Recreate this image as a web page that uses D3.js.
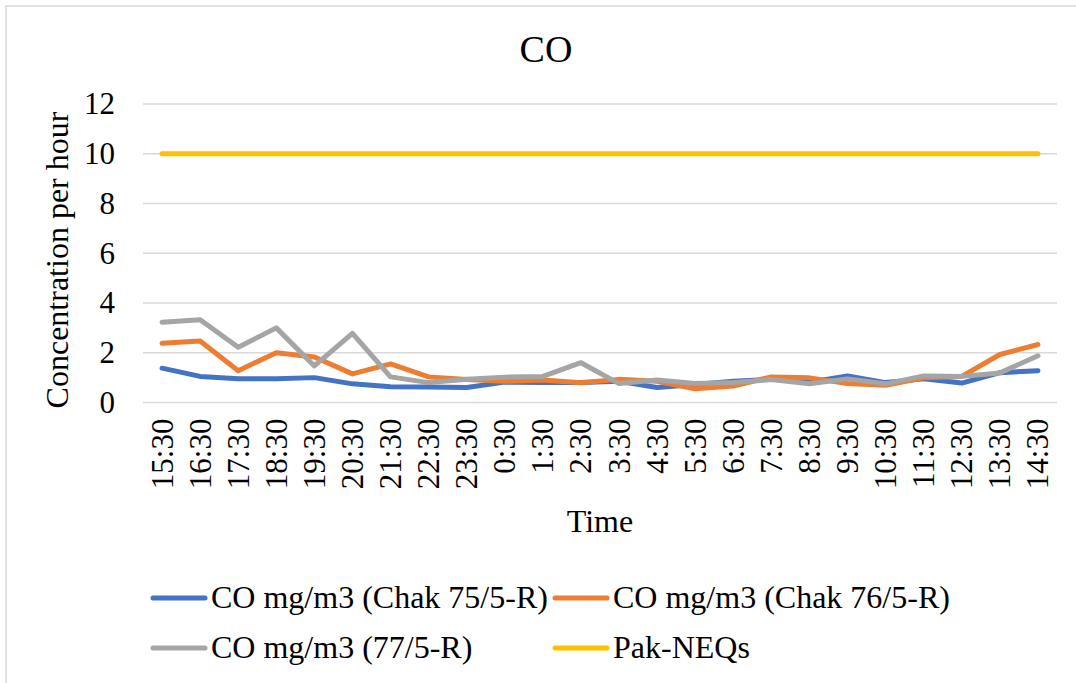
<!DOCTYPE html>
<html>
<head>
<meta charset="utf-8">
<script src="https://cdn.jsdelivr.net/npm/d3@7"></script>
<style>
  body { margin: 0; background: #fff; }
  text { font-family: "Liberation Serif", "Times New Roman", serif; fill: #000; }
</style>
</head>
<body>
<script>
var times = ["15:30","16:30","17:30","18:30","19:30","20:30","21:30","22:30","23:30","0:30","1:30","2:30",
             "3:30","4:30","5:30","6:30","7:30","8:30","9:30","10:30","11:30","12:30","13:30","14:30"];

var chak75 = [1.38,1.05,0.95,0.95,1.0,0.75,0.63,0.62,0.6,0.82,0.8,0.8,0.85,0.6,0.72,0.85,0.93,0.82,1.07,0.8,0.95,0.78,1.2,1.28];
var chak76 = [2.38,2.47,1.28,2.0,1.83,1.15,1.55,1.03,0.92,0.85,0.9,0.79,0.93,0.85,0.55,0.66,1.03,0.99,0.76,0.69,0.99,1.05,1.93,2.33];
var r77    = [3.23,3.33,2.22,3.0,1.47,2.78,1.03,0.8,0.93,1.02,1.05,1.6,0.76,0.9,0.76,0.8,0.92,0.75,0.95,0.75,1.07,1.05,1.19,1.88];
var neqs   = [10,10,10,10,10,10,10,10,10,10,10,10,10,10,10,10,10,10,10,10,10,10,10,10];

var yTicks = [0,2,4,6,8,10,12];

var series = [
  {name: "CO mg/m3 (Chak 75/5-R)", values: chak75, color: "#4472C4"},
  {name: "CO mg/m3 (Chak 76/5-R)", values: chak76, color: "#ED7D31"},
  {name: "CO mg/m3 (77/5-R)", values: r77, color: "#A5A5A5"},
  {name: "Pak-NEQs", values: neqs, color: "#FFC000"}
];

var W = 1076, H = 683;
var plot = {left: 143, right: 1057, top: 104, bottom: 402.5};

var svg = d3.select("body").append("svg")
    .attr("width", W)
    .attr("height", H);

// chart frame
svg.append("rect")
    .attr("x", 6).attr("y", 6)
    .attr("width", W + 10).attr("height", H + 10)
    .attr("fill", "#fff")
    .attr("stroke", "#d9d9d9")
    .attr("stroke-width", 1.5);

var x = d3.scalePoint()
    .domain(times)
    .range([plot.left, plot.right])
    .padding(0.5);

var y = d3.scaleLinear()
    .domain([0, 12])
    .range([plot.bottom, plot.top]);

// gridlines
svg.append("g")
  .selectAll("line")
  .data(yTicks)
  .enter().append("line")
    .attr("x1", plot.left).attr("x2", plot.right)
    .attr("y1", function(d) { return y(d); })
    .attr("y2", function(d) { return y(d); })
    .attr("stroke", "#d9d9d9")
    .attr("stroke-width", 1.5);

// y axis
var yAxis = svg.append("g")
    .attr("transform", "translate(" + plot.left + ",0)")
    .call(d3.axisLeft(y).tickValues(yTicks).tickSize(0).tickPadding(28));
yAxis.select(".domain").remove();
yAxis.selectAll("text")
    .style("font-family", "Liberation Serif, serif")
    .style("font-size", "31px");

// x axis labels
var xAxis = svg.append("g")
    .attr("transform", "translate(0," + plot.bottom + ")")
    .call(d3.axisBottom(x).tickSize(0).tickPadding(0));
xAxis.select(".domain").remove();
xAxis.selectAll("text")
    .style("font-family", "Liberation Serif, serif")
    .style("font-size", "31px")
    .attr("text-anchor", "end")
    .attr("dy", null)
    .attr("transform", "translate(10,16)rotate(-90)")
    .attr("x", 0).attr("y", 0);

// lines
var line = d3.line()
    .x(function(d, i) { return x(times[i]); })
    .y(function(d) { return y(d); });

svg.append("g")
  .selectAll("path")
  .data(series)
  .enter().append("path")
    .attr("d", function(d) { return line(d.values); })
    .attr("fill", "none")
    .attr("stroke", function(d) { return d.color; })
    .attr("stroke-width", 5)
    .attr("stroke-linejoin", "round")
    .attr("stroke-linecap", "round");

// title
svg.append("text")
    .attr("x", 546).attr("y", 62)
    .attr("text-anchor", "middle")
    .style("font-size", "38px")
    .text("CO");

// axis titles
svg.append("text")
    .attr("text-anchor", "middle")
    .style("font-size", "32px")
    .attr("transform", "translate(68,260)rotate(-90)")
    .text("Concentration per hour");

svg.append("text")
    .attr("x", 600).attr("y", 532)
    .attr("text-anchor", "middle")
    .style("font-size", "32px")
    .text("Time");

// legend
var legPos = [[153, 598], [555, 598], [153, 648], [555, 648]];
var leg = svg.append("g")
  .selectAll("g")
  .data(series)
  .enter().append("g")
    .attr("transform", function(d, i) { return "translate(" + legPos[i][0] + "," + legPos[i][1] + ")"; });

leg.append("line")
    .attr("x1", 0).attr("x2", 52)
    .attr("stroke", function(d) { return d.color; })
    .attr("stroke-width", 5)
    .attr("stroke-linecap", "round");

leg.append("text")
    .attr("x", 58).attr("y", 10)
    .style("font-size", "32px")
    .text(function(d) { return d.name; });
</script>
</body>
</html>
